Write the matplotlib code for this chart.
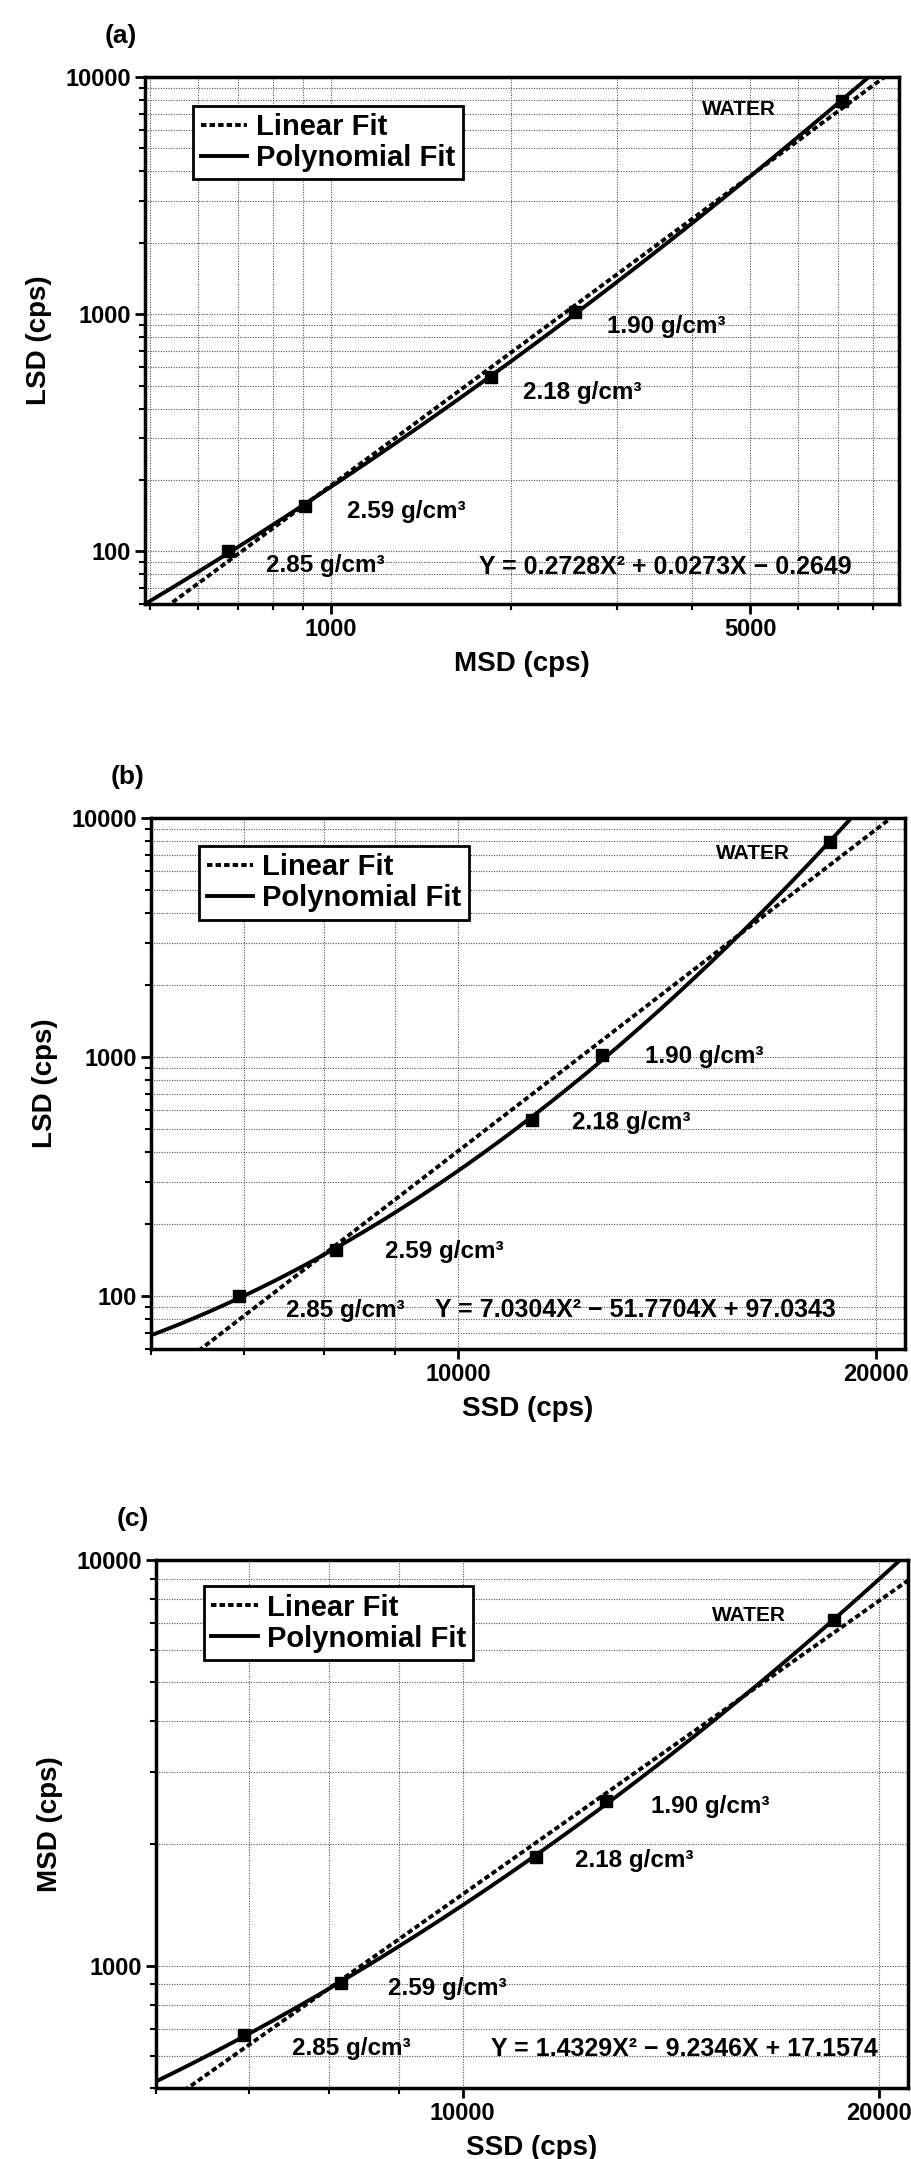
import numpy as np
import matplotlib.pyplot as plt
from matplotlib.ticker import FixedLocator, NullFormatter

plt.rcParams['font.family'] = ['Liberation Sans Narrow', 'Liberation Sans', 'DejaVu Sans']
plt.rcParams['font.weight'] = 'bold'
plt.rcParams['axes.labelweight'] = 'bold'

# count rates of the five samples (densest first, water last)
ssd = [6950, 8160, 11300, 12700, 18550]
msd = [675, 905, 1850, 2550, 7100]
lsd = [100, 155, 545, 1020, 7950]
sample_labels = ["2.85 g/cm³", "2.59 g/cm³", "2.18 g/cm³", "1.90 g/cm³", "WATER"]

eq_a = "Y = 0.2728X² + 0.0273X − 0.2649"
eq_b = "Y = 7.0304X² − 51.7704X + 97.0343"
eq_c = "Y = 1.4329X² − 9.2346X + 17.1574"

W, H = 911, 2159
fig = plt.figure(figsize=(W / 100, H / 100), dpi=100)


def px_axes(l, r, t, b):
    return fig.add_axes([l / W, 1 - b / H, (r - l) / W, (b - t) / H])


panels = [
    dict(box=(145, 899, 77, 604), x=msd, y=lsd, xlim=(490, 8850), ylim=(60, 10000),
         xmaj=[1000, 5000], xmin=[500, 600, 700, 800, 900, 2000, 3000, 4000, 6000, 7000, 8000],
         ymaj=[100, 1000, 10000], xlabel="MSD (cps)", ylabel="LSD (cps)", tag="(a)", eq=eq_a,
         leg=(0.064, 0.945),
         pos=[(0.160, 0.074), (0.268, 0.176), (0.501, 0.401), (0.613, 0.527), (0.788, 0.938)],
         eqpos=(0.443, 0.070)),
    dict(box=(151, 905, 818, 1349), x=ssd, y=lsd, xlim=(6000, 21000), ylim=(60, 10000),
         xmaj=[10000, 20000], xmin=[6000, 7000, 8000, 9000],
         ymaj=[100, 1000, 10000], xlabel="SSD (cps)", ylabel="LSD (cps)", tag="(b)", eq=eq_b,
         leg=(0.064, 0.947),
         pos=[(0.179, 0.073), (0.310, 0.183), (0.558, 0.427), (0.655, 0.550), (0.798, 0.934)],
         eqpos=(0.377, 0.073)),
    dict(box=(156, 908, 1560, 2088), x=ssd, y=msd, xlim=(6000, 21000), ylim=(500, 10000),
         xmaj=[10000, 20000], xmin=[6000, 7000, 8000, 9000],
         ymaj=[1000, 10000], xlabel="SSD (cps)", ylabel="MSD (cps)", tag="(c)", eq=eq_c,
         leg=(0.064, 0.950),
         pos=[(0.181, 0.074), (0.309, 0.189), (0.557, 0.431), (0.658, 0.533), (0.789, 0.894)],
         eqpos=(0.445, 0.074)),
]

for p in panels:
    ax = px_axes(*p["box"])
    ax.set_xscale("log")
    ax.set_yscale("log")

    lx = np.log10(p["x"])
    ly = np.log10(p["y"])
    lin = np.polyfit(lx, ly, 1)
    quad = np.polyfit(lx, ly, 2)
    xs = np.geomspace(p["xlim"][0], p["xlim"][1], 300)
    ax.plot(xs, 10 ** np.polyval(lin, np.log10(xs)), color="black", lw=2.8,
            linestyle=(0, (1.4, 0.8)), label="Linear Fit", zorder=3)
    ax.plot(xs, 10 ** np.polyval(quad, np.log10(xs)), color="black", lw=2.8,
            label="Polynomial Fit", zorder=3)
    ax.plot(p["x"], p["y"], "s", color="black", ms=9, zorder=4)

    ax.set_xlim(*p["xlim"])
    ax.set_ylim(*p["ylim"])
    ax.xaxis.set_major_locator(FixedLocator(p["xmaj"]))
    ax.set_xticklabels([str(v) for v in p["xmaj"]])
    ax.xaxis.set_minor_locator(FixedLocator(p["xmin"]))
    ax.xaxis.set_minor_formatter(NullFormatter())
    ax.yaxis.set_major_locator(FixedLocator(p["ymaj"]))
    ax.set_yticklabels([str(v) for v in p["ymaj"]])
    ymin_ticks = [m * d for d in (10, 100, 1000) for m in range(2, 10)]
    ax.yaxis.set_minor_locator(FixedLocator(ymin_ticks))
    ax.yaxis.set_minor_formatter(NullFormatter())

    ax.tick_params(which="major", direction="out", length=7, width=2, labelsize=17, pad=3)
    ax.tick_params(which="minor", direction="out", length=4, width=1.5)
    for s in ax.spines.values():
        s.set_linewidth(2.5)

    ax.grid(which="both", linestyle=(0, (1, 1.3)), color="#555555", lw=0.8)

    ax.set_xlabel(p["xlabel"], fontsize=20, labelpad=7)
    ax.set_ylabel(p["ylabel"], fontsize=20, labelpad=10)
    ax.text(-0.053, 1.078, p["tag"], transform=ax.transAxes, fontsize=19, va="center")

    leg = ax.legend(loc="upper left", bbox_to_anchor=p["leg"], fontsize=21, frameon=True,
                    fancybox=False, handlelength=1.6, handletextpad=0.3, borderpad=0.25,
                    labelspacing=0.1, borderaxespad=0)
    leg.get_frame().set_edgecolor("black")
    leg.get_frame().set_linewidth(2)
    leg.get_frame().set_alpha(1)

    for txt, (fx, fy) in zip(sample_labels, p["pos"]):
        if txt == "WATER":
            ax.text(fx, fy, txt, transform=ax.transAxes, fontsize=15, ha="center", va="center")
        else:
            ax.text(fx, fy, txt, transform=ax.transAxes, fontsize=17.5, ha="left", va="center")
    ax.text(p["eqpos"][0], p["eqpos"][1], p["eq"], transform=ax.transAxes, fontsize=18,
            ha="left", va="center")

fig.savefig("out.png", dpi=100)
